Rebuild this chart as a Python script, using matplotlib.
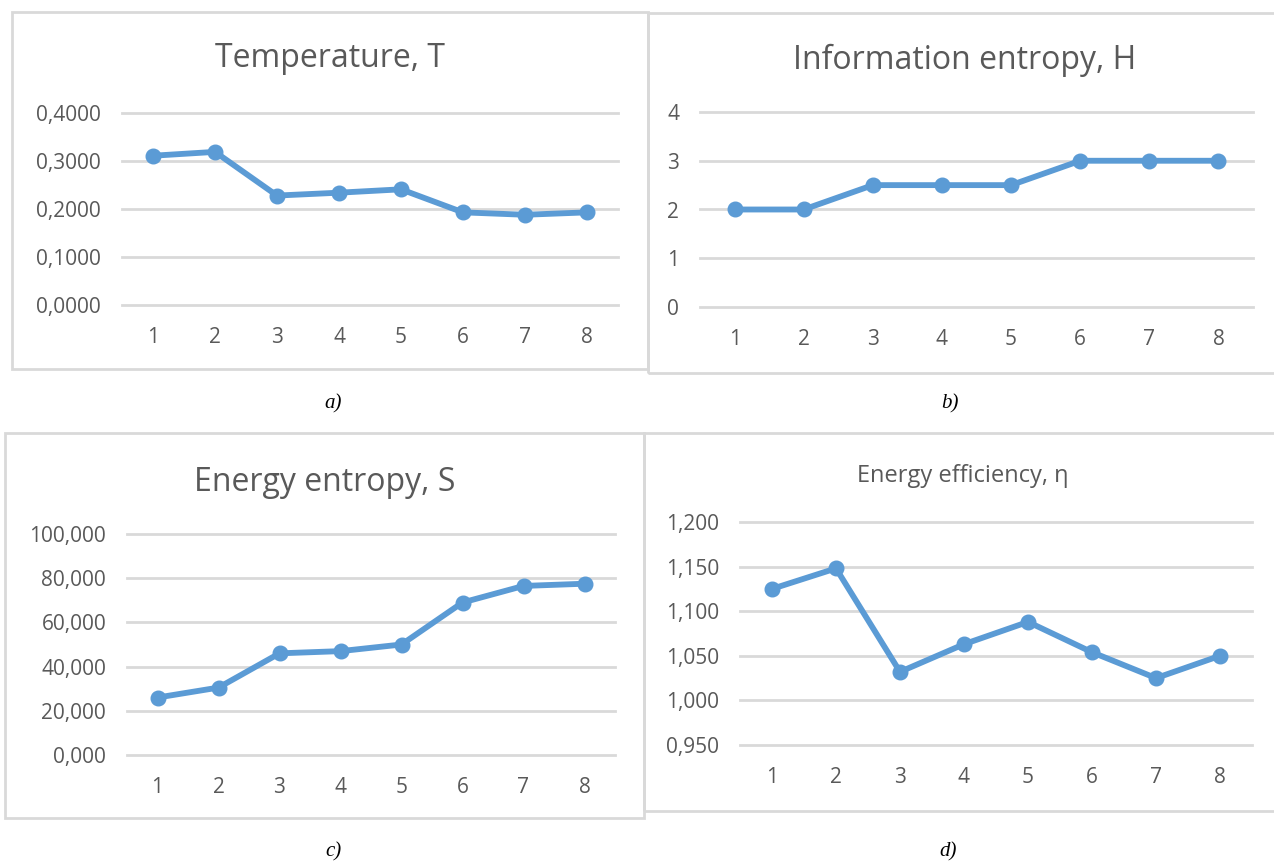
import matplotlib
matplotlib.use("Agg")
import matplotlib.pyplot as plt
from matplotlib.patches import Rectangle
from matplotlib.ticker import FuncFormatter

# data
steps = [1, 2, 3, 4, 5, 6, 7, 8]
temperature = [0.311, 0.319, 0.228, 0.234, 0.241, 0.193, 0.188, 0.193]
info_entropy = [2.0, 2.0, 2.5, 2.5, 2.5, 3.0, 3.0, 3.0]
energy_entropy = [26.0, 30.5, 46.0, 47.0, 50.0, 69.0, 76.5, 77.5]
efficiency = [1.125, 1.148, 1.032, 1.063, 1.088, 1.054, 1.025, 1.050]

titles = ["Temperature, T", "Information entropy, H", "Energy entropy, S", "Energy efficiency, η"]
captions = ["a)", "b)", "c)", "d)"]

W, H = 1274, 861
fig = plt.figure(figsize=(W / 100, H / 100), dpi=100)
plt.rcParams['font.family'] = ['Open Sans', 'DejaVu Sans']

LINE = '#5B9BD5'
GRID = '#D9D9D9'
TXT = '#595959'


def px_axes(left, top, right, bottom):
    return fig.add_axes([left / W, 1 - bottom / H, (right - left) / W, (bottom - top) / H])


def box(left, top, right, bottom):
    fig.patches.append(Rectangle((left / W, 1 - bottom / H), (right - left) / W, (bottom - top) / H,
                                 transform=fig.transFigure, fill=False, ec=GRID, lw=2))


def comma_fmt(nd):
    return FuncFormatter(lambda v, p: f"{v:.{nd}f}".replace('.', ','))


def panel(ax, y, ylim, yticks, nd, title, title_xy, title_size):
    ax.plot(steps, y, color=LINE, lw=4.2, marker='o', ms=10.5, solid_capstyle='round', zorder=3)
    ax.set_xlim(0.5, 8.5)
    ax.set_ylim(*ylim)
    ax.set_yticks(yticks)
    ax.set_xticks(steps)
    ax.yaxis.set_major_formatter(comma_fmt(nd))
    for s in ax.spines.values():
        s.set_visible(False)
    ax.grid(axis='y', color=GRID, lw=2)
    for gl in ax.get_ygridlines():
        gl.set_clip_on(False)
    ax.set_axisbelow(True)
    ax.tick_params(length=0, colors=TXT, labelsize=15)
    ax.tick_params(axis='x', pad=16)
    ax.tick_params(axis='y', pad=15)
    fig.text(title_xy[0] / W, 1 - title_xy[1] / H, title, ha='center', va='baseline',
             fontsize=title_size, color=TXT)


# a) temperature
box(12, 12, 648, 369)
ax = px_axes(122, 113, 618, 305)
panel(ax, temperature, (0, 0.4), [0, 0.1, 0.2, 0.3, 0.4], 4, titles[0], (330, 67), 23)

# b) information entropy
box(648, 13, 1280, 373)
ax = px_axes(700, 112, 1253, 307)
panel(ax, info_entropy, (0, 4), [0, 1, 2, 3, 4], 0, titles[1], (965, 69), 23)

# c) energy entropy
box(5, 433, 644, 818)
ax = px_axes(127, 534, 615, 755)
panel(ax, energy_entropy, (0, 100), [0, 20, 40, 60, 80, 100], 3, titles[2], (325, 491), 23)

# d) energy efficiency
box(644, 433, 1280, 811)
ax = px_axes(740, 522, 1252, 745)
panel(ax, efficiency, (0.95, 1.2), [0.95, 1.0, 1.05, 1.1, 1.15, 1.2], 3, titles[3], (963, 482), 17)

# captions
for cap, (cx, cy) in zip(captions, [(333, 404), (950, 404), (333, 852), (948, 852)]):
    fig.text(cx / W, 1 - cy / H, cap, ha='center', va='center', fontsize=15,
             family='Liberation Serif', style='italic', color='black')

fig.savefig('out.png', dpi=100, facecolor='white')
